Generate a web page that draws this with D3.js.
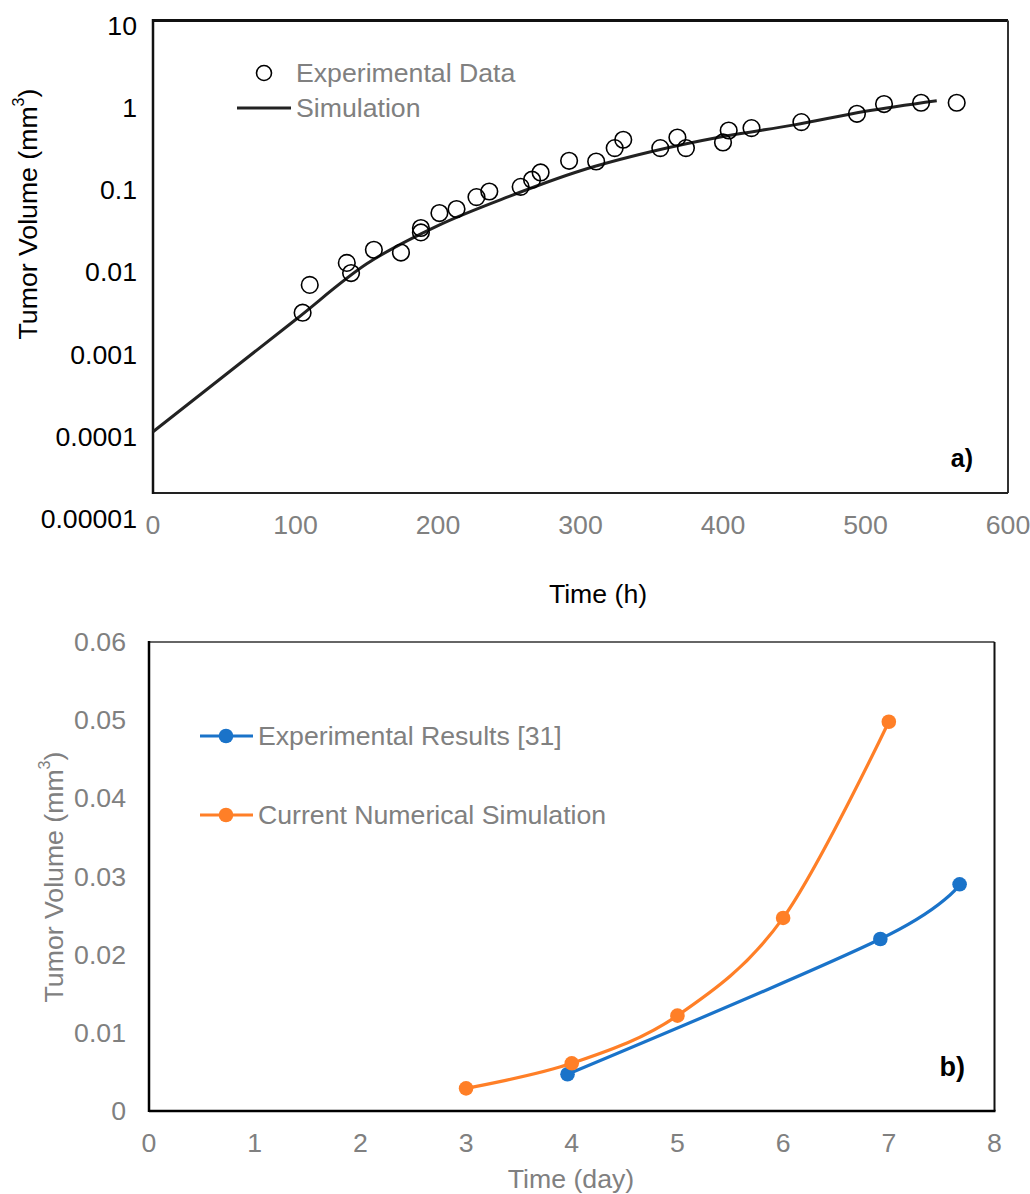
<!DOCTYPE html>
<html>
<head>
<meta charset="utf-8">
<script src="https://cdn.jsdelivr.net/npm/d3@7"></script>
<style>
  html, body { margin: 0; padding: 0; background: #fff; }
  svg { display: block; font-family: "Liberation Sans", Arial, sans-serif; }
</style>
</head>
<body>
<svg id="chart" width="1030" height="1194"></svg>
<script>
// ---- Panel a): tumor volume vs time (h), log scale ----
const expTimeH = [105, 110, 136, 139, 155, 174, 188, 188, 201, 213, 227, 236,
  258, 266, 272, 292, 311, 324, 330, 356, 368, 374, 400, 404, 420, 455, 494, 513, 539, 564];
const expVolA = [0.0028, 0.0061, 0.0113, 0.0085, 0.0163, 0.0151, 0.030, 0.0265, 0.0456, 0.051, 0.0713, 0.0834,
  0.095, 0.116, 0.142, 0.197, 0.193, 0.281, 0.355, 0.281, 0.378, 0.281, 0.329, 0.460, 0.492, 0.582, 0.734, 0.964, 1.0, 1.0];
const simTimeH = [0, 50, 100, 150, 200, 250, 300, 350, 400, 450, 500, 550];
const simVolA = [0.0001, 0.00048, 0.0023, 0.0110, 0.0321, 0.0727, 0.149, 0.255, 0.388, 0.538, 0.787, 1.06];
const xTicksA = [0, 100, 200, 300, 400, 500, 600];
const yTicksA = [0.00001, 0.0001, 0.001, 0.01, 0.1, 1, 10];
const yTickLabelsA = ["0.00001", "0.0001", "0.001", "0.01", "0.1", "1", "10"];

// ---- Panel b): tumor volume vs time (day), linear scale ----
const expDays = [3.96, 6.92, 7.67];
const expVolB = [0.0047, 0.0220, 0.0290];
const simDays = [3, 4, 5, 6, 7];
const simVolB = [0.0029, 0.0061, 0.0122, 0.0247, 0.0498];
const xTicksB = [0, 1, 2, 3, 4, 5, 6, 7, 8];
const yTicksB = [0, 0.01, 0.02, 0.03, 0.04, 0.05, 0.06];

const svg = d3.select("#chart");
const FONT = 26.67;
const GREY = "#808080";
const BLUE = "#1a73c9";
const ORANGE = "#ff7f27";

// ===== Panel a =====
(function () {
  const left = 153, right = 1008, top = 20.5, frameBottom = 493;
  const x = d3.scaleLinear().domain([0, 600]).range([left, right]);
  const y = d3.scaleLog().domain([0.00001, 10]).range([514, top]);
  const g = svg.append("g");

  // frame
  g.append("line").attr("x1", left).attr("x2", right).attr("y1", top).attr("y2", top)
    .attr("stroke", "#111").attr("stroke-width", 3);
  g.append("line").attr("x1", right).attr("x2", right).attr("y1", top).attr("y2", frameBottom)
    .attr("stroke", "#333").attr("stroke-width", 2);
  g.append("line").attr("x1", left).attr("x2", right).attr("y1", frameBottom).attr("y2", frameBottom)
    .attr("stroke", "#222").attr("stroke-width", 2);
  g.append("line").attr("x1", left).attr("x2", left).attr("y1", top - 1.5).attr("y2", frameBottom + 1)
    .attr("stroke", "#111").attr("stroke-width", 2.5);

  // y tick labels (log decades)
  g.append("g").selectAll("text").data(yTicksA).join("text")
    .attr("x", 137).attr("y", d => y(d) + 5)
    .attr("text-anchor", "end").attr("dominant-baseline", "central")
    .attr("font-size", FONT).attr("fill", "#000")
    .text((d, i) => yTickLabelsA[i]);

  // x tick labels
  g.append("g").selectAll("text").data(xTicksA).join("text")
    .attr("x", d => x(d)).attr("y", 525)
    .attr("text-anchor", "middle").attr("dominant-baseline", "central")
    .attr("font-size", FONT).attr("fill", GREY)
    .text(d => d);

  // axis titles
  g.append("text").attr("x", 598).attr("y", 594)
    .attr("text-anchor", "middle").attr("dominant-baseline", "central")
    .attr("font-size", FONT).attr("fill", "#000").text("Time (h)");
  const yt = g.append("text")
    .attr("transform", "translate(28,214) rotate(-90)")
    .attr("text-anchor", "middle").attr("dominant-baseline", "central")
    .attr("font-size", FONT).attr("fill", "#000");
  yt.append("tspan").text("Tumor Volume (mm");
  yt.append("tspan").attr("font-size", 16).attr("dy", -10).text("3");
  yt.append("tspan").attr("dy", 10).text(")");

  // simulation curve
  g.append("path").datum(simTimeH.map((t, i) => [t, simVolA[i]]))
    .attr("fill", "none").attr("stroke", "#222").attr("stroke-width", 3)
    .attr("d", d3.line().x(d => x(d[0])).y(d => y(d[1])).curve(d3.curveMonotoneX));

  // experimental points
  g.append("g").selectAll("circle").data(expTimeH.map((t, i) => [t, expVolA[i]])).join("circle")
    .attr("cx", d => x(d[0])).attr("cy", d => y(d[1])).attr("r", 8.3)
    .attr("fill", "none").attr("stroke", "#000").attr("stroke-width", 1.6);

  // legend
  g.append("circle").attr("cx", 264).attr("cy", 73).attr("r", 7.5)
    .attr("fill", "none").attr("stroke", "#000").attr("stroke-width", 1.6);
  g.append("text").attr("x", 296).attr("y", 73).attr("dominant-baseline", "central")
    .attr("font-size", FONT).attr("fill", GREY).text("Experimental Data");
  g.append("line").attr("x1", 237).attr("x2", 291).attr("y1", 108).attr("y2", 108)
    .attr("stroke", "#222").attr("stroke-width", 3);
  g.append("text").attr("x", 296).attr("y", 108).attr("dominant-baseline", "central")
    .attr("font-size", FONT).attr("fill", GREY).text("Simulation");

  g.append("text").attr("x", 973).attr("y", 458).attr("text-anchor", "end")
    .attr("dominant-baseline", "central").attr("font-size", 25).attr("font-weight", "bold")
    .attr("fill", "#000").text("a)");
})();

// ===== Panel b =====
(function () {
  const left = 149, right = 994.5, top = 642, bottom = 1111;
  const x = d3.scaleLinear().domain([0, 8]).range([left, right]);
  const y = d3.scaleLinear().domain([0, 0.06]).range([bottom, top]);
  const g = svg.append("g");

  g.append("line").attr("x1", left).attr("x2", right).attr("y1", top).attr("y2", top)
    .attr("stroke", "#333").attr("stroke-width", 1.5);
  g.append("line").attr("x1", right).attr("x2", right).attr("y1", top).attr("y2", bottom)
    .attr("stroke", "#111").attr("stroke-width", 2);
  g.append("line").attr("x1", left).attr("x2", right + 1).attr("y1", bottom).attr("y2", bottom)
    .attr("stroke", "#000").attr("stroke-width", 2.5);
  g.append("line").attr("x1", left).attr("x2", left).attr("y1", top - 1).attr("y2", bottom + 1)
    .attr("stroke", "#000").attr("stroke-width", 2.5);

  g.append("g").selectAll("text").data(yTicksB).join("text")
    .attr("x", 126).attr("y", d => y(d))
    .attr("text-anchor", "end").attr("dominant-baseline", "central")
    .attr("font-size", FONT).attr("fill", GREY)
    .text(d => d === 0 ? "0" : d3.format(".2f")(d));

  g.append("g").selectAll("text").data(xTicksB).join("text")
    .attr("x", d => x(d)).attr("y", 1143)
    .attr("text-anchor", "middle").attr("dominant-baseline", "central")
    .attr("font-size", FONT).attr("fill", GREY)
    .text(d => d);

  g.append("text").attr("x", 571).attr("y", 1188)
    .attr("text-anchor", "middle")
    .attr("font-size", FONT).attr("fill", GREY).text("Time (day)");
  const yt = g.append("text")
    .attr("transform", "translate(54,877) rotate(-90)")
    .attr("text-anchor", "middle").attr("dominant-baseline", "central")
    .attr("font-size", FONT).attr("fill", GREY);
  yt.append("tspan").text("Tumor Volume (mm");
  yt.append("tspan").attr("font-size", 16).attr("dy", -10).text("3");
  yt.append("tspan").attr("dy", 10).text(")");

  const line = d3.line().x(d => x(d[0])).y(d => y(d[1])).curve(d3.curveCardinal);
  const series = [
    { xs: expDays, ys: expVolB, color: BLUE },
    { xs: simDays, ys: simVolB, color: ORANGE }
  ];
  series.forEach(s => {
    const pts = s.xs.map((t, i) => [t, s.ys[i]]);
    g.append("path").datum(pts).attr("fill", "none").attr("stroke", s.color)
      .attr("stroke-width", 3.2).attr("d", line);
    g.append("g").selectAll("circle").data(pts).join("circle")
      .attr("cx", d => x(d[0])).attr("cy", d => y(d[1])).attr("r", 7.3)
      .attr("fill", s.color);
  });

  // legend
  const legend = [
    { label: "Experimental Results [31]", color: BLUE, yy: 736 },
    { label: "Current Numerical Simulation", color: ORANGE, yy: 815 }
  ];
  legend.forEach(l => {
    g.append("line").attr("x1", 200).attr("x2", 253).attr("y1", l.yy).attr("y2", l.yy)
      .attr("stroke", l.color).attr("stroke-width", 3.2);
    g.append("circle").attr("cx", 226).attr("cy", l.yy).attr("r", 7.3).attr("fill", l.color);
    g.append("text").attr("x", 258).attr("y", l.yy).attr("dominant-baseline", "central")
      .attr("font-size", FONT).attr("fill", GREY).text(l.label);
  });

  g.append("text").attr("x", 965).attr("y", 1067).attr("text-anchor", "end")
    .attr("dominant-baseline", "central").attr("font-size", 27).attr("font-weight", "bold")
    .attr("fill", "#000").text("b)");
})();
</script>
</body>
</html>
